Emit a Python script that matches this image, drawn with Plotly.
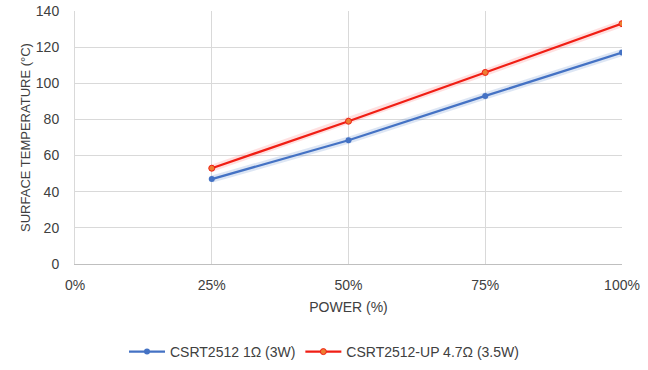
import plotly.graph_objects as go

power = [25, 50, 75, 100]
blue_vals = [47, 68.5, 93, 117]
red_vals = [53, 79, 106, 133]
series_names = ["CSRT2512 1Ω (3W)", "CSRT2512-UP 4.7Ω (3.5W)"]
x_ticks = [0, 25, 50, 75, 100]
x_tick_labels = ["0%", "25%", "50%", "75%", "100%"]
y_ticks = [0, 20, 40, 60, 80, 100, 120, 140]

FONT = "Liberation Sans, Arial"
TXT = "#404040"
W, H = 648, 370
fig = go.Figure()

# soft glow underlay
for vals, col in [(blue_vals, "rgba(68,114,196,0.18)"), (red_vals, "rgba(255,0,0,0.12)")]:
    fig.add_trace(go.Scatter(x=power, y=vals, mode="lines", line=dict(color=col, width=7),
                             showlegend=False, hoverinfo="skip"))

fig.add_trace(go.Scatter(x=power, y=blue_vals, mode="lines+markers", name=series_names[0],
                         line=dict(color="#4472C4", width=2.25),
                         marker=dict(color="#4472C4", size=6)))
fig.add_trace(go.Scatter(x=power, y=red_vals, mode="lines+markers", name=series_names[1],
                         line=dict(color="#F01E14", width=2.25),
                         marker=dict(color="#ED7D31", size=6, line=dict(color="#F01E14", width=1))))

fig.update_layout(
    width=W, height=H,
    margin=dict(l=75, r=26, t=11, b=106, autoexpand=False),
    paper_bgcolor="white", plot_bgcolor="white",
    font=dict(family=FONT, size=14, color=TXT),
    showlegend=True,
    legend=dict(orientation="h", x=0.5, xanchor="center", xref="container",
                y=18 / H, yanchor="middle", yref="container",
                font=dict(size=14, color=TXT), itemwidth=36),
    xaxis=dict(range=[0, 100], tickvals=x_ticks, ticktext=x_tick_labels,
               showgrid=True, gridcolor="#D9D9D9", gridwidth=1,
               showline=True, linecolor="#BFBFBF", linewidth=1, mirror=False,
               zeroline=False, ticks="", ticklabelstandoff=8, automargin=False,
               ticklabeloverflow="allow",
               title=dict(text="POWER (%)", font=dict(size=14, color=TXT), standoff=10)),
    yaxis=dict(range=[0, 140], tickvals=y_ticks,
               showgrid=True, gridcolor="#D9D9D9", gridwidth=1,
               showline=True, linecolor="#D9D9D9", zeroline=False, ticks="",
               ticklabelstandoff=12, automargin=False, ticklabeloverflow="allow",
               title=dict(text="SURFACE TEMPERATURE (°C)", font=dict(size=13, color=TXT), standoff=2)),
)

# remove the browser's default 8px body margin so the figure fills the window
fig.write_html("out.html", config={"displayModeBar": False},
               post_script="document.body.style.margin='0';document.body.style.overflow='hidden';")
